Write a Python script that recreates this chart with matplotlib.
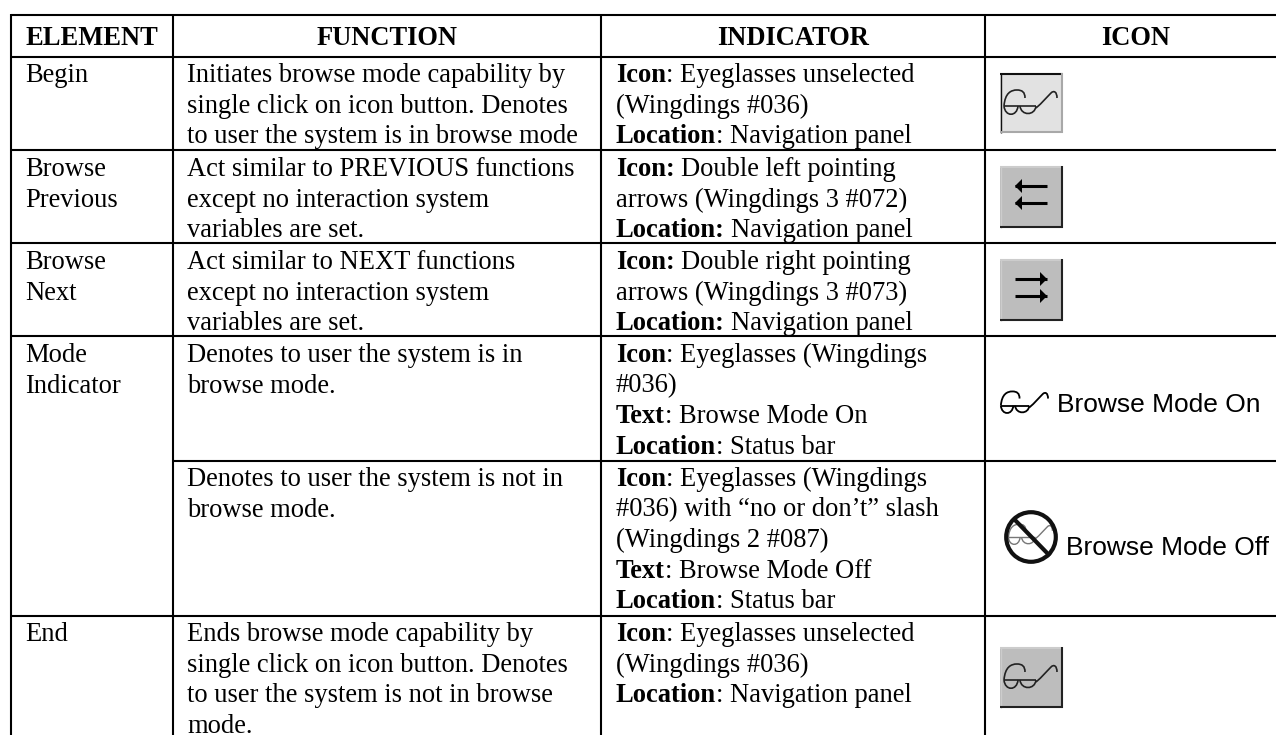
import matplotlib
matplotlib.use("Agg")
import matplotlib.pyplot as plt
from matplotlib.patches import Rectangle, Circle, Polygon, PathPatch
from matplotlib.path import Path

W, H = 1276, 735
plt.rcParams['font.family'] = ['Liberation Serif', 'DejaVu Sans']

headers = ["ELEMENT", "FUNCTION", "INDICATOR", "ICON"]
header_centres = [92, 387, 793, 1136]
elements = [["Begin"], ["Browse", "Previous"], ["Browse", "Next"], ["Mode", "Indicator"], ["End"]]
element_tops = [82, 176, 269, 362, 641]
functions = [
    ["Initiates browse mode capability by", "single click on icon button. Denotes", "to user the system is in browse mode"],
    ["Act similar to PREVIOUS functions", "except no interaction system", "variables are set."],
    ["Act similar to NEXT functions", "except no interaction system", "variables are set."],
    ["Denotes to user the system is in", "browse mode."],
    ["Denotes to user the system is not in", "browse mode."],
    ["Ends browse mode capability by", "single click on icon button. Denotes", "to user the system is not in browse", "mode."],
]
baselines = [82, 176, 269, 362, 486, 641]
indicators = [
    [("Icon", ": Eyeglasses unselected"), ("", "(Wingdings #036)"), ("Location", ": Navigation panel")],
    [("Icon:", " Double left pointing"), ("", "arrows (Wingdings 3 #072)"), ("Location:", " Navigation panel")],
    [("Icon:", " Double right pointing"), ("", "arrows (Wingdings 3 #073)"), ("Location:", " Navigation panel")],
    [("Icon", ": Eyeglasses (Wingdings"), ("", "#036)"), ("Text", ": Browse Mode On"), ("Location", ": Status bar")],
    [("Icon", ": Eyeglasses (Wingdings"), ("", "#036) with \u201cno or don\u2019t\u201d slash"), ("", "(Wingdings 2 #087)"),
     ("Text", ": Browse Mode Off"), ("Location", ": Status bar")],
    [("Icon", ": Eyeglasses unselected"), ("", "(Wingdings #036)"), ("Location", ": Navigation panel")],
]
h_rules = [(11, 14.5), (11, 57), (11, 150), (11, 243), (11, 336), (173, 461), (11, 616)]
v_rules = [11, 173, 601, 985]

fig = plt.figure(figsize=(W / 100, H / 100), dpi=100)
ax = fig.add_axes([0, 0, 1, 1])
ax.set_xlim(0, W)
ax.set_ylim(H, 0)
ax.axis("off")

for x0, y in h_rules:
    ax.plot([x0, W], [y, y], color="black", lw=1.5, solid_capstyle="butt")
for x in v_rules:
    ax.plot([x, x], [13.5, H], color="black", lw=1.5, solid_capstyle="butt")

FS = 19.1
LINE = 30.6
for text, cx in zip(headers, header_centres):
    ax.text(cx, 45, text, ha="center", va="baseline", fontsize=FS, fontweight="bold")
for top, lines in zip(element_tops, elements):
    for i, s in enumerate(lines):
        ax.text(25.5, top + i * LINE, s, va="baseline", fontsize=FS)
for top, lines in zip(baselines, functions):
    for i, s in enumerate(lines):
        ax.text(187, top + i * LINE, s, va="baseline", fontsize=FS)

fig.canvas.draw()
rend = fig.canvas.get_renderer()
for top, lines in zip(baselines, indicators):
    for i, (b, r) in enumerate(lines):
        y = top + i * LINE
        x = 616
        if b:
            t = ax.text(x, y, b, va="baseline", fontsize=FS, fontweight="bold")
            x = t.get_window_extent(rend).x1
        ax.text(x + (6 if r.startswith(" ") else 0), y, r.strip(), va="baseline", fontsize=FS)


def glasses(cx, cy, s=1.0, color="#222222", lw=1.2):
    M, L, C = Path.MOVETO, Path.LINETO, Path.CURVE4
    shapes = [
        ([(-26, 3), (6, 3)], [M, L]),
        ([(-26, 3), (-25, 14), (-13, 14), (-12, 3)], [M, C, C, C]),
        ([(-10, 3), (-9, 13), (5, 13), (6, 3)], [M, C, C, C]),
        ([(-26, 3), (-25, -10), (-19, -13), (-13, -13), (-8, -13), (-5, -11), (-5, -5)], [M, C, C, C, C, C, C]),
        ([(6, 5), (12, 0), (17, -6), (21, -10), (24, -13), (27, -11), (27, -5)], [M, C, C, C, C, C, C]),
    ]
    for pts, codes in shapes:
        verts = [(cx + px * s, cy + py * s) for px, py in pts]
        ax.add_patch(PathPatch(Path(verts, codes), fc="none", ec=color, lw=lw))


def button(x, y, w, h, face, sunken=False):
    ax.add_patch(Rectangle((x, y), w, h, fc=face, ec="none"))
    if sunken:
        tl, br = "#111111", "#a8a8a8"
    else:
        tl, br = "#cccccc", "#222222"
    ax.plot([x, x + w], [y + 1, y + 1], color=tl, lw=1.5, solid_capstyle="butt")
    ax.plot([x + 1, x + 1], [y, y + h], color=tl, lw=1.0, solid_capstyle="butt")
    ax.plot([x, x + w], [y + h - 1, y + h - 1], color=br, lw=1.5, solid_capstyle="butt")
    ax.plot([x + w - 1, x + w - 1], [y, y + h], color=br, lw=1.5, solid_capstyle="butt")


def arrows(x0, x1, ys, direction):
    for yy in ys:
        tip, base = (x0, x0 + 7) if direction < 0 else (x1, x1 - 7)
        ax.plot([x0, x1], [yy, yy], color="black", lw=2.2, solid_capstyle="butt")
        ax.add_patch(Polygon([[tip, yy], [base, yy - 7], [base, yy + 7]], color="black", lw=0))


button(1000, 73, 63, 60, "#e2e2e2", sunken=True)
glasses(1030, 103)
button(1000, 166, 63, 62, "#bdbdbd")
arrows(1015, 1047, [186, 203], -1)
button(1000, 259, 63, 62, "#bdbdbd")
arrows(1015, 1047, [279, 296], 1)
button(1000, 647, 63, 61, "#bdbdbd")
glasses(1030, 677)

glasses(1024, 403, s=0.89, color="black", lw=1.3)
ax.text(1057, 412, "Browse Mode On", va="baseline", fontsize=19, family="Liberation Sans")
glasses(1030, 535, s=0.83, color="#777777", lw=1.0)
ax.add_patch(Circle((1031, 537), 24.8, fc="none", ec="#111111", lw=3))
ax.plot([1014, 1050], [519, 556], color="#111111", lw=3, solid_capstyle="butt")
ax.text(1066, 555, "Browse Mode Off", va="baseline", fontsize=19, family="Liberation Sans")

fig.savefig("out.png", dpi=100, facecolor="white")
